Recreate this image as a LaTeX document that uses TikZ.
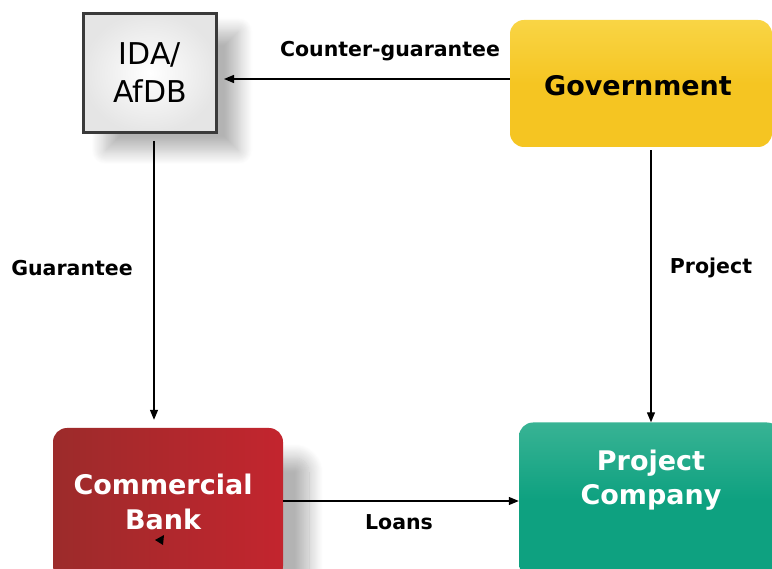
\documentclass[tikz,border=0pt]{standalone}
\usepackage{fontspec}
\setmainfont{DejaVu Sans}
\usetikzlibrary{arrows.meta,shadows.blur}
\definecolor{govY}{HTML}{F5C522}
\definecolor{govYt}{HTML}{F9D545}
\definecolor{bankA}{HTML}{9C2B2B}
\definecolor{bankB}{HTML}{C3252E}
\definecolor{pcG}{HTML}{0EA180}
\definecolor{pcGt}{HTML}{38B394}
\definecolor{idaBorder}{HTML}{3A3A3A}
\tikzset{
  conn/.style={line width=1.3pt, -{Triangle[length=10pt,width=8pt]}},
  lbl/.style={font=\fontsize{20.5}{24}\selectfont\bfseries, inner sep=0pt},
  bigtxt/.style={font=\fontsize{27}{34.5}\selectfont\bfseries, align=center, inner sep=0pt},
  roundbox/.style={rounded corners=14pt, inner sep=0pt},
}
\begin{document}
\begin{tikzpicture}[x=1pt,y=-1pt]
\useasboundingbox (0,0) rectangle (772,569);
\clip (0,0) rectangle (772,569);
% IDA box
\node[draw=idaBorder, line width=3pt, minimum width=133pt, minimum height=119pt,
      inner color=white, outer color=gray!20,
      blur shadow={shadow xshift=22pt, shadow yshift=-18pt, shadow blur radius=14pt, shadow blur steps=16, shadow opacity=30},
      font=\fontsize{30}{38}\selectfont, align=center] (ida) at (150,73) {IDA/\\AfDB};
% Government
\node[roundbox, minimum width=262pt, minimum height=127pt, top color=govYt, bottom color=govY, middle color=govY] (gov) at (641,83.5) {};
\node[bigtxt, text=black] (govtxt) at (638,86) {Government};
% Commercial Bank
\node[roundbox, minimum width=230pt, minimum height=152pt, left color=bankA, right color=bankB,
      blur shadow={shadow xshift=26pt, shadow yshift=-30pt, shadow blur radius=14pt, shadow blur steps=16, shadow opacity=30}] (bank) at (168,504) {};
\node[bigtxt, text=white] (banktxt) at (163,502) {Commercial\\Bank};
% Project Company
\node[roundbox, minimum width=262pt, minimum height=155pt, top color=pcGt, bottom color=pcG, middle color=pcG] (pc) at (650,500) {};
\node[bigtxt, text=white] (pctxt) at (651,480) {Project\\Company};
% arrows
\draw[conn] (gov.west |- 0,79) -- ([xshift=6pt]ida.east |- 0,79);
\draw[conn] ([yshift=-7pt]ida.south -| 154,0) -- ([yshift=8pt]bank.north -| 154,0);
\draw[conn] (gov.south -| 651,0) ++(0,3) -- (pc.north -| 651,0);
\draw[conn] (bank.east |- 0,501) -- (pc.west |- 0,501);
% stray arrowhead
\fill (155,540) -- (164,535) -- (163,545) -- cycle;
% labels
\node[lbl] (l1) at (390,51) {Counter-guarantee};
\node[lbl] (l2) at (72,268) {Guarantee};
\node[lbl] (l3) at (711,268) {Project};
\node[lbl] (l4) at (399,522) {Loans};
\end{tikzpicture}
\end{document}
